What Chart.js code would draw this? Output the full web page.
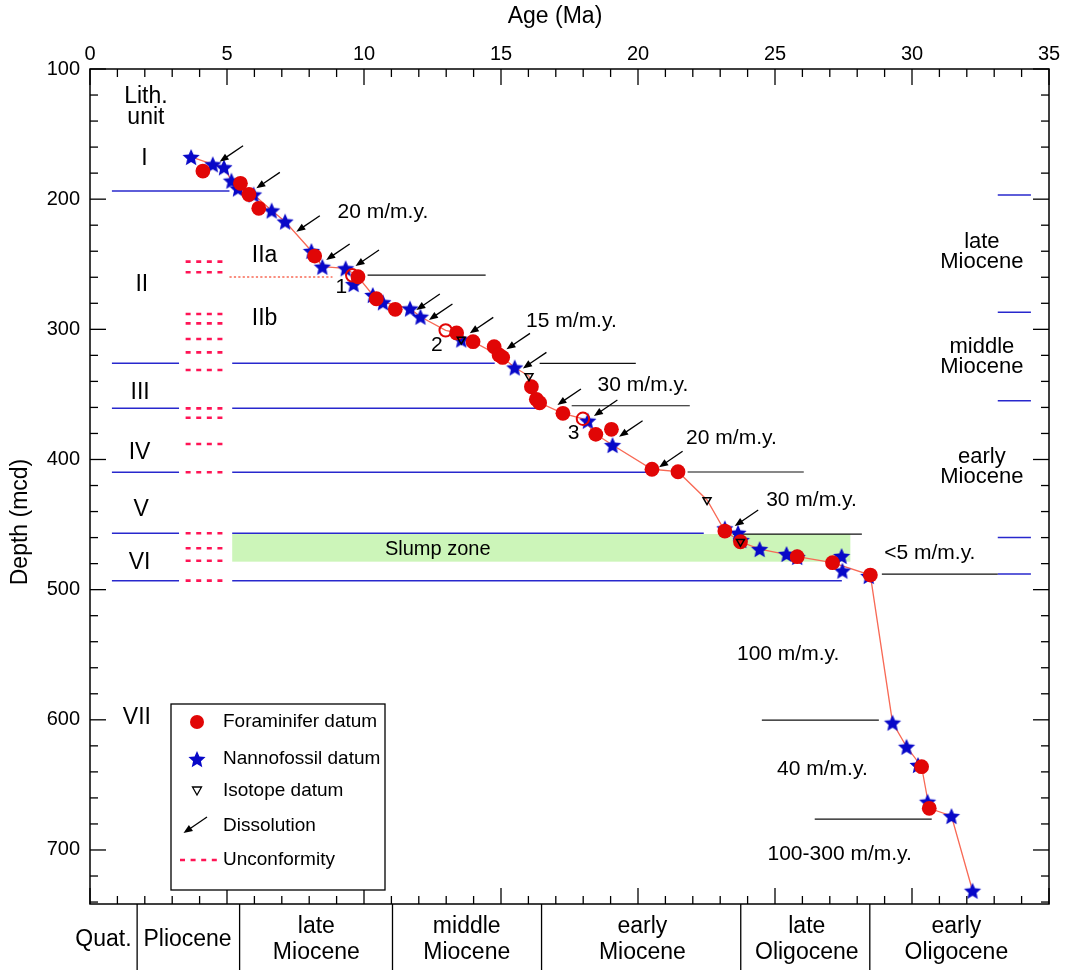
<!DOCTYPE html>
<html>
<head>
<meta charset="utf-8">
<script src="https://cdn.jsdelivr.net/npm/chart.js@4.4.1/dist/chart.umd.min.js"></script>
<style>
  html, body { margin: 0; padding: 0; background: #fff; }
  #wrap { width: 1065px; height: 970px; }
</style>
</head>
<body>
<div id="wrap"><canvas id="chart" width="1065" height="970"></canvas></div>
<script>
const FONT = '"Liberation Sans", Arial, Helvetica, sans-serif';

// axis ticks
const ageTicks = [0, 5, 10, 15, 20, 25, 30, 35];
const depthTicks = [100, 200, 300, 400, 500, 600, 700];

// foraminifer datums (age Ma / depth mcd)
const foramAge = [4.12, 5.49, 5.80, 6.16, 8.20, 9.78, 10.45, 11.14, 13.38, 13.98, 14.75, 14.93, 15.06, 16.11, 16.29, 16.41, 17.26, 18.46, 19.03, 20.51, 21.46, 23.17, 23.74, 25.81, 27.10, 28.48, 30.35, 30.63];
const foramDepth = [178.4, 187.8, 196.4, 207.0, 243.7, 259.6, 276.5, 284.6, 302.8, 309.5, 313.4, 319.7, 321.6, 344.1, 353.8, 356.4, 364.5, 380.7, 376.8, 407.5, 409.4, 455.0, 463.2, 474.7, 479.3, 488.8, 636.0, 668.0];
// open foraminifer symbols (1, 2, 3)
const openAge = [9.57, 12.98, 17.99];
const openDepth = [258.5, 300.8, 368.7];
const openLabel = ['1', '2', '3'];
const openLabelAge = [9.17, 12.66, 17.65];
const openLabelDepth = [267.3, 312.0, 379.9];

// nannofossil datums
const nannoAge = [3.69, 4.48, 4.89, 5.16, 5.40, 5.97, 6.63, 7.12, 8.08, 8.48, 9.33, 9.62, 10.32, 10.69, 11.68, 12.06, 13.55, 15.50, 18.17, 19.07, 23.17, 23.65, 23.77, 24.44, 25.42, 25.81, 27.43, 27.46, 28.42, 29.29, 29.80, 30.22, 30.57, 31.44, 32.21];
const nannoDepth = [167.6, 173.2, 175.5, 185.8, 191.8, 196.4, 208.7, 217.2, 239.8, 251.9, 253.1, 265.2, 273.6, 279.2, 284.0, 290.3, 307.8, 329.3, 370.2, 388.9, 452.9, 456.3, 461.9, 468.8, 472.6, 474.9, 474.1, 485.4, 489.5, 602.2, 620.7, 634.7, 662.9, 673.9, 731.3];

// isotope datums
const isoAge = [13.55, 16.02, 22.52, 23.74];
const isoDepth = [307.8, 335.9, 431.1, 463.2];

// dissolution arrows (tip positions)
const dissAge = [4.73, 6.07, 7.53, 8.62, 9.69, 11.91, 12.37, 13.86, 15.20, 15.80, 17.06, 18.39, 19.31, 20.77, 23.53];
const dissDepth = [171.2, 191.7, 225.0, 246.7, 251.4, 285.2, 292.8, 303.1, 315.4, 330.0, 358.1, 366.6, 382.5, 406.0, 451.1];

// age-depth model line
const modelAge = [3.69, 4.48, 4.89, 5.16, 5.40, 5.97, 6.63, 7.12, 8.08, 8.48, 9.33, 9.78, 10.32, 10.69, 11.68, 12.06, 12.98, 13.38, 13.98, 15.06, 15.50, 16.02, 16.11, 16.41, 17.26, 17.99, 18.46, 19.07, 20.51, 21.46, 22.52, 23.17, 23.74, 24.44, 25.81, 27.10, 28.48, 29.29, 29.80, 30.35, 30.63, 31.44, 32.21];
const modelDepth = [167.6, 173.2, 175.5, 185.8, 191.8, 196.4, 208.7, 217.2, 239.8, 251.9, 253.1, 259.6, 273.6, 279.2, 284.0, 290.3, 300.8, 302.8, 309.5, 321.6, 329.3, 335.9, 344.1, 356.4, 364.5, 368.7, 380.7, 388.9, 407.5, 409.4, 431.1, 455.0, 463.2, 468.8, 474.7, 479.3, 488.8, 602.2, 620.7, 636.0, 668.0, 673.9, 731.3];

// lithologic unit boundaries
const lithDepth = [193.7, 326.1, 360.7, 409.8, 456.7, 493.1];
const lithEnd = [5.09, 14.77, 16.48, 20.50, 22.40, 27.44];
const lithGap = [false, true, true, true, true, true];
const lithStart = 0.8;
const gapFrom = 3.25, gapTo = 5.19;

// unconformities
const unconfDepth = [248.0, 256.2, 288.2, 295.4, 307.4, 317.7, 331.3, 360.7, 367.9, 388.1, 409.8, 456.7, 468.2, 477.8, 493.1];
const unconfAge = [3.49, 4.85];
const subunitLine = { depth: 259.8, from: 5.09, to: 8.85 };

// sedimentation rate breaks
const rateDepth = [258.3, 326.1, 358.7, 409.6, 457.3, 488.0, 600.3, 676.3];
const rateFrom = [10.13, 16.41, 17.58, 21.81, 23.46, 28.90, 24.52, 26.45];
const rateTo = [14.44, 19.92, 21.89, 26.05, 28.17, 33.13, 28.79, 30.72];
const rateText = ['20 m/m.y.', '15 m/m.y.', '30 m/m.y.', '20 m/m.y.', '30 m/m.y.', '<5 m/m.y.', '100 m/m.y.', '40 m/m.y.', '100-300 m/m.y.'];
const rateTextAge = [10.69, 17.57, 20.18, 23.41, 26.33, 30.65, 25.48, 26.73, 27.36];
const rateTextDepth = [210.4, 294.1, 342.8, 383.7, 431.1, 472.1, 549.5, 638.0, 703.1];

// slump zone
const slumpAge = [5.19, 27.75];
const slumpDepth = [457.3, 478.5];

// lith unit labels
const lithText = ['Lith.', 'unit', 'I', 'II', 'IIa', 'IIb', 'III', 'IV', 'V', 'VI', 'VII'];
const lithTextAge = [2.04, 2.04, 1.99, 1.89, 6.37, 6.37, 1.83, 1.81, 1.87, 1.81, 1.71];
const lithTextDepth = [121.5, 137.6, 168.6, 265.9, 243.7, 291.5, 348.7, 394.5, 438.8, 479.3, 598.1];

// epochs on the right side (depth)
const rightEpochText = [['late', 'Miocene'], ['middle', 'Miocene'], ['early', 'Miocene']];
const rightEpochDepth = [[233.1, 248.0], [313.4, 328.7], [397.9, 413.2]];
const rightEpochAge = 32.55;
const rightEpochMarks = [196.8, 286.9, 354.8, 459.9, 488.0];
const rightMarkAge = [33.13, 34.34];

// epochs along the age axis
const epochBounds = [1.72, 5.46, 11.04, 16.48, 23.75, 28.46];
const epochText = [['Quat.'], ['Pliocene'], ['late', 'Miocene'], ['middle', 'Miocene'], ['early', 'Miocene'], ['late', 'Oligocene'], ['early', 'Oligocene']];
const epochCenter = [0.49, 3.56, 8.26, 13.75, 20.16, 26.16, 31.62];

const RED = 'rgb(225,6,6)';
const BLUE = 'rgb(8,8,200)';
const LINE_BLUE = 'rgb(40,40,205)';
const PINK = 'rgb(255,20,85)';
const MODEL = 'rgb(248,105,85)';

function makeStar(R, color) {
  const c = document.createElement('canvas');
  const s = Math.ceil(R * 2 + 2);
  c.width = s; c.height = s;
  const g = c.getContext('2d');
  g.fillStyle = color;
  g.beginPath();
  for (let i = 0; i < 10; i++) {
    const r = i % 2 ? R * 0.46 : R;
    const ang = -Math.PI / 2 + i * Math.PI / 5;
    g.lineTo(s / 2 + r * Math.cos(ang), s / 2 + R * 0.1 + r * Math.sin(ang));
  }
  g.closePath();
  g.fill();
  return c;
}
const starImg = makeStar(9, BLUE);

const pts = (xs, ys) => xs.map((v, i) => ({ x: v, y: ys[i] }));

function seg(ctx, x0, y0, x1, y1) {
  ctx.beginPath(); ctx.moveTo(x0, y0); ctx.lineTo(x1, y1); ctx.stroke();
}

function arrow(ctx, tx, ty) {
  const sx = tx + 23.5, sy = ty - 16;
  const ang = Math.atan2(ty - sy, tx - sx);
  const hl = 9, hw = 3.6;
  ctx.strokeStyle = '#000'; ctx.fillStyle = '#000'; ctx.lineWidth = 1.3;
  seg(ctx, sx, sy, tx - Math.cos(ang) * hl * 0.8, ty - Math.sin(ang) * hl * 0.8);
  ctx.beginPath();
  ctx.moveTo(tx, ty);
  ctx.lineTo(tx - hl * Math.cos(ang) + hw * Math.sin(ang), ty - hl * Math.sin(ang) - hw * Math.cos(ang));
  ctx.lineTo(tx - hl * Math.cos(ang) - hw * Math.sin(ang), ty - hl * Math.sin(ang) + hw * Math.cos(ang));
  ctx.closePath();
  ctx.fill();
}

function text(ctx, str, x, y, size, align) {
  ctx.font = size + 'px ' + FONT;
  ctx.fillStyle = '#000';
  ctx.textAlign = align || 'center';
  ctx.textBaseline = 'middle';
  ctx.fillText(str, x, y);
}

const overlay = {
  id: 'overlay',
  beforeDatasetsDraw(chart) {
    const { ctx, scales: { x, y } } = chart;
    const X = v => x.getPixelForValue(v), Y = v => y.getPixelForValue(v);
    ctx.save();
    // slump zone
    ctx.fillStyle = 'rgb(204,245,185)';
    ctx.fillRect(X(slumpAge[0]), Y(slumpDepth[0]), X(slumpAge[1]) - X(slumpAge[0]), Y(slumpDepth[1]) - Y(slumpDepth[0]));
    // lith boundaries
    ctx.strokeStyle = LINE_BLUE; ctx.lineWidth = 1.5;
    lithDepth.forEach((d, i) => {
      const py = Y(d);
      if (lithGap[i]) {
        seg(ctx, X(lithStart), py, X(gapFrom), py);
        seg(ctx, X(gapTo), py, X(lithEnd[i]), py);
      } else {
        seg(ctx, X(lithStart), py, X(lithEnd[i]), py);
      }
    });
    rightEpochMarks.forEach(d => seg(ctx, X(rightMarkAge[0]), Y(d), X(rightMarkAge[1]), Y(d)));
    // rate breaks
    ctx.strokeStyle = '#111'; ctx.lineWidth = 1.2;
    rateDepth.forEach((d, i) => seg(ctx, X(rateFrom[i]), Y(d), X(rateTo[i]), Y(d)));
    // unconformities
    ctx.strokeStyle = PINK; ctx.lineWidth = 2.6;
    ctx.setLineDash([5, 5.6]);
    unconfDepth.forEach(d => seg(ctx, X(unconfAge[0]), Y(d), X(unconfAge[1]), Y(d)));
    // IIa / IIb boundary
    ctx.strokeStyle = MODEL; ctx.lineWidth = 1.4;
    ctx.setLineDash([2.2, 2.2]);
    seg(ctx, X(subunitLine.from), Y(subunitLine.depth), X(subunitLine.to), Y(subunitLine.depth));
    ctx.setLineDash([]);
    ctx.restore();
  },
  afterDatasetsDraw(chart) {
    const { ctx, chartArea: a, scales: { x, y } } = chart;
    const X = v => x.getPixelForValue(v), Y = v => y.getPixelForValue(v);
    ctx.save();
    // dissolution arrows
    dissAge.forEach((v, i) => arrow(ctx, X(v), Y(dissDepth[i])));
    // texts
    rateText.forEach((t, i) => text(ctx, t, X(rateTextAge[i]), Y(rateTextDepth[i]), 21));
    lithText.forEach((t, i) => text(ctx, t, X(lithTextAge[i]), Y(lithTextDepth[i]), 23));
    openLabel.forEach((t, i) => text(ctx, t, X(openLabelAge[i]), Y(openLabelDepth[i]), 21));
    text(ctx, 'Slump zone', X(12.69), Y(468.8), 20);
    rightEpochText.forEach((lines, i) => lines.forEach((t, j) => text(ctx, t, X(rightEpochAge), Y(rightEpochDepth[i][j]), 22)));

    // frame and inside ticks
    ctx.strokeStyle = '#000'; ctx.lineWidth = 1.5;
    ctx.strokeRect(a.left, a.top, a.right - a.left, a.bottom - a.top);
    ctx.lineWidth = 1.3;
    for (let v = x.min; v <= x.max; v += 1) {
      const len = v % 5 === 0 ? 16 : 8, px = X(v);
      seg(ctx, px, a.top, px, a.top + len);
      seg(ctx, px, a.bottom, px, a.bottom - len);
    }
    for (let d = y.min; d <= y.max; d += 20) {
      const len = d % 100 === 0 ? 16 : 8, py = Y(d);
      seg(ctx, a.left, py, a.left + len, py);
      seg(ctx, a.right, py, a.right - len, py);
    }

    // axis titles
    text(ctx, 'Age (Ma)', 555, 17, 23);
    ctx.save();
    ctx.translate(21, 522);
    ctx.rotate(-Math.PI / 2);
    text(ctx, 'Depth (mcd)', 0, 0, 23);
    ctx.restore();

    // epoch band below the plot
    ctx.strokeStyle = '#000'; ctx.lineWidth = 1.3;
    epochBounds.forEach(v => seg(ctx, X(v), a.bottom, X(v), chart.height));
    epochText.forEach((lines, i) => {
      if (lines.length === 1) text(ctx, lines[0], X(epochCenter[i]), a.bottom + 36, 23);
      else lines.forEach((t, j) => text(ctx, t, X(epochCenter[i]), a.bottom + 23 + j * 26, 23));
    });

    // legend
    const lx = 171, ly = 704;
    ctx.fillStyle = '#fff';
    ctx.fillRect(lx, ly, 214, 186);
    ctx.strokeStyle = '#000'; ctx.lineWidth = 1.3;
    ctx.strokeRect(lx, ly, 214, 186);
    const sx = lx + 26, tx = lx + 52;
    ctx.fillStyle = RED;
    ctx.beginPath(); ctx.arc(sx, ly + 18, 7, 0, Math.PI * 2); ctx.fill();
    ctx.drawImage(starImg, sx - starImg.width / 2, ly + 55 - starImg.height / 2);
    ctx.strokeStyle = '#000'; ctx.lineWidth = 1.3;
    ctx.beginPath();
    ctx.moveTo(sx - 4.5, ly + 83); ctx.lineTo(sx + 4.5, ly + 83); ctx.lineTo(sx, ly + 91); ctx.closePath();
    ctx.stroke();
    arrow(ctx, lx + 12.5, ly + 129);
    ctx.strokeStyle = PINK; ctx.lineWidth = 2.6; ctx.setLineDash([5, 5.6]);
    seg(ctx, lx + 9, ly + 156, lx + 47, ly + 156);
    ctx.setLineDash([]);
    const legText = ['Foraminifer datum', 'Nannofossil datum', 'Isotope datum', 'Dissolution', 'Unconformity'];
    const legY = [18, 55, 87, 122, 156];
    legText.forEach((t, i) => text(ctx, t, tx, ly + legY[i], 19, 'left'));
    ctx.restore();
  }
};

new Chart(document.getElementById('chart'), {
  type: 'scatter',
  data: {
    datasets: [
      {
        label: 'Isotope datum',
        data: pts(isoAge, isoDepth),
        pointStyle: 'triangle',
        rotation: 180,
        pointRadius: 4.6,
        backgroundColor: 'rgba(0,0,0,0)',
        borderColor: '#000',
        borderWidth: 1.5,
        order: 0
      },
      {
        label: 'Foraminifer datum (open)',
        data: pts(openAge, openDepth),
        pointStyle: 'circle',
        pointRadius: 6.2,
        backgroundColor: 'rgba(0,0,0,0)',
        borderColor: RED,
        borderWidth: 2,
        order: 1
      },
      {
        label: 'Foraminifer datum',
        data: pts(foramAge, foramDepth),
        pointStyle: 'circle',
        pointRadius: 7.4,
        backgroundColor: RED,
        borderWidth: 0,
        order: 2
      },
      {
        label: 'Nannofossil datum',
        data: pts(nannoAge, nannoDepth),
        pointStyle: starImg,
        pointRadius: 9,
        order: 3
      },
      {
        label: 'Age model',
        data: pts(modelAge, modelDepth),
        showLine: true,
        borderColor: MODEL,
        borderWidth: 1.3,
        pointRadius: 0,
        fill: false,
        order: 4
      }
    ]
  },
  options: {
    responsive: false,
    animation: false,
    events: [],
    layout: { padding: { left: 0, right: 16, top: 0, bottom: 66 } },
    plugins: {
      legend: { display: false },
      tooltip: { enabled: false }
    },
    scales: {
      x: {
        type: 'linear',
        position: 'top',
        min: 0,
        max: 35,
        afterBuildTicks: s => { s.ticks = ageTicks.map(v => ({ value: v })); },
        afterFit: s => { s.height = 69; },
        grid: { display: false, drawTicks: false },
        border: { display: false },
        ticks: { padding: 3, color: '#000', font: { family: FONT, size: 20 }, autoSkip: false, maxRotation: 0 }
      },
      y: {
        type: 'linear',
        position: 'left',
        reverse: true,
        min: 100,
        max: 741.5,
        afterBuildTicks: s => { s.ticks = depthTicks.map(v => ({ value: v })); },
        afterFit: s => { s.width = 90; },
        grid: { display: false, drawTicks: false },
        border: { display: false },
        ticks: { padding: 10, color: '#000', font: { family: FONT, size: 20 }, autoSkip: false }
      }
    }
  },
  plugins: [overlay]
});
</script>
</body>
</html>
